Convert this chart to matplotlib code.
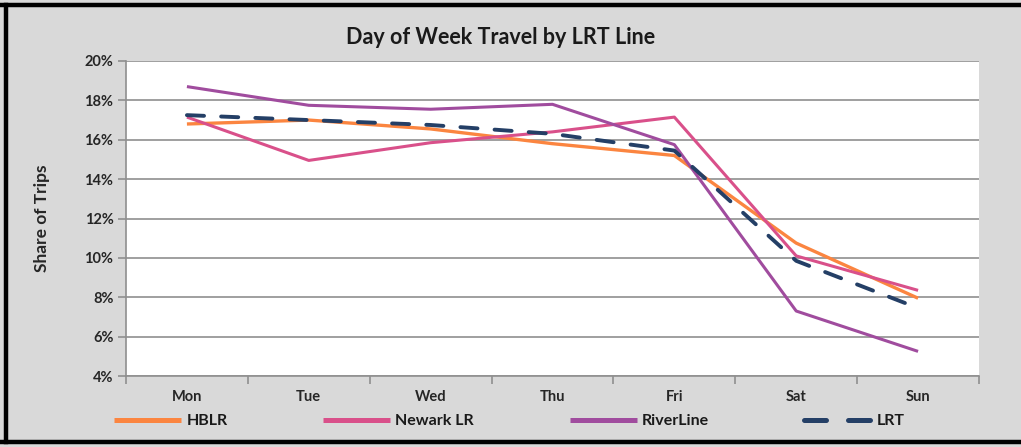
import matplotlib
matplotlib.use("Agg")
import matplotlib.pyplot as plt
from matplotlib.lines import Line2D
from matplotlib.ticker import FixedLocator

days = ["Mon", "Tue", "Wed", "Thu", "Fri", "Sat", "Sun"]
hblr = [16.8, 17.0, 16.55, 15.8, 15.2, 10.75, 7.95]
newark = [17.15, 14.95, 15.85, 16.4, 17.15, 10.1, 8.35]
riverline = [18.7, 17.75, 17.55, 17.8, 15.75, 7.3, 5.25]
lrt = [17.25, 17.0, 16.75, 16.3, 15.45, 9.85, 7.45]
y_ticks = [4, 6, 8, 10, 12, 14, 16, 18, 20]

W, H, DPI = 1021, 447, 100
BG = "#d9d9d9"
FONT = "Lato"

fig = plt.figure(figsize=(W / DPI, H / DPI), dpi=DPI, facecolor=BG)
ax = fig.add_axes([126 / W, 1 - 376 / H, (979 - 126) / W, (376 - 61) / H])
ax.set_facecolor("white")

x = list(range(len(days)))
ax.plot(x, hblr, color="#fb8540", lw=2.4, label="HBLR", solid_capstyle="butt", zorder=3)
ax.plot(x, newark, color="#d9508a", lw=2.2, label="Newark LR", solid_capstyle="butt", zorder=3)
ax.plot(x, riverline, color="#a04c9e", lw=2.2, label="RiverLine", solid_capstyle="butt", zorder=3)
ax.plot(x, lrt, color="#243f66", lw=2.8, label="LRT", linestyle=(0, (4.4, 4.4)),
        dash_capstyle="round", zorder=4)

ax.set_xlim(-0.5, len(days) - 0.5)
ax.set_ylim(4, 20)
ax.yaxis.set_major_locator(FixedLocator(y_ticks))
ax.set_yticklabels([f"{v}%" for v in y_ticks])
ax.grid(axis="y", color="#8f8f8f", lw=1.2)
ax.set_axisbelow(True)

ax.set_xticks(x)
ax.set_xticklabels(days)
ax.xaxis.set_minor_locator(FixedLocator([i - 0.5 for i in range(len(days) + 1)]))
ax.tick_params(axis="x", which="major", length=0, pad=10)
ax.tick_params(axis="x", which="minor", length=6, width=1.2, color="#8f8f8f")
ax.tick_params(axis="y", length=6, width=1.2, color="#8f8f8f", pad=3)

for lab in ax.get_xticklabels() + ax.get_yticklabels():
    lab.set_fontfamily(FONT)
    lab.set_fontweight("bold")
    lab.set_fontsize(10.5)
    lab.set_color("#262626")

for side in ("top", "right"):
    ax.spines[side].set_visible(False)
for side in ("left", "bottom"):
    ax.spines[side].set_color("#8f8f8f")
    ax.spines[side].set_linewidth(1.2)

ax.set_ylabel("Share of Trips", fontfamily=FONT, fontweight="bold", fontsize=12.5,
              color="#262626", labelpad=25)

fig.text(0.49, 1 - 37 / H, "Day of Week Travel by LRT Line", ha="center", va="center",
         fontfamily=FONT, fontweight="bold", fontsize=15.5, color="#1a1a1a")

leg = fig.legend(loc="center left", bbox_to_anchor=(100 / W, 1 - 421 / H), ncol=4,
                 frameon=False, handlelength=4.2, handletextpad=0.3, columnspacing=6.0,
                 prop={"family": FONT, "weight": "bold", "size": 11.5})
for h in leg.get_lines():
    h.set_linewidth(3.6)
for t in leg.get_texts():
    t.set_color("#1a1a1a")

# frame around the chart area
fig.add_artist(Line2D([0, 1], [1 - 5 / H, 1 - 5 / H], color="black", lw=3.2,
                      transform=fig.transFigure))
fig.add_artist(Line2D([0, 1], [1 - 442 / H, 1 - 442 / H], color="black", lw=3.2,
                      transform=fig.transFigure))
fig.add_artist(Line2D([6 / W, 6 / W], [1 - 442 / H, 1 - 5 / H], color="black", lw=3.2,
                      transform=fig.transFigure))

fig.savefig("out.png", dpi=DPI, facecolor=BG)
